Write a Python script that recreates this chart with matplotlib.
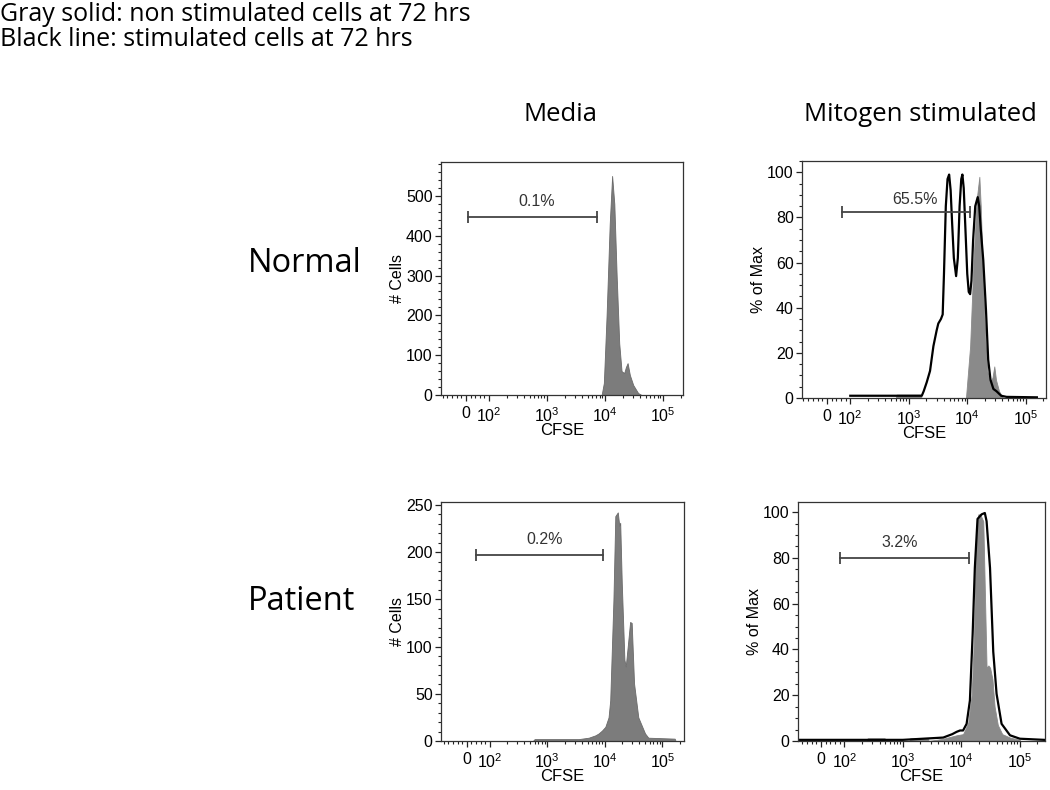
import numpy as np
import matplotlib
matplotlib.use('Agg')
import matplotlib.pyplot as plt
from matplotlib.ticker import FixedLocator, MultipleLocator

plt.rcParams['font.family'] = ['Liberation Sans', 'DejaVu Sans']
plt.rcParams['mathtext.fontset'] = 'custom'
plt.rcParams['mathtext.rm'] = 'Liberation Sans'

# CFSE histograms (x = CFSE intensity, y = count / % of max)
normal_media_x = [500, 8700, 9500, 10600, 12000, 13200, 14400, 15800, 17500, 19200,
                  21300, 22800, 24400, 26700, 30500, 37000, 42400, 140000]
normal_media_y = [0, 0, 30, 200, 430, 550, 480, 300, 130, 60,
                  55, 70, 80, 50, 25, 5, 0, 0]

normal_mito_gray_x = [600, 620, 1600, 1650, 9500, 11200, 12800, 14500, 16100, 17000,
                      18000, 19000, 20500, 22000, 24500, 27000, 29000, 31000, 35000, 41000]
normal_mito_gray_y = [0, 1.5, 1.5, 0, 0, 23, 61, 88, 98, 85,
                      65, 45, 25, 12, 7, 9, 14, 8, 3, 0]

normal_mito_black_x = [100, 620, 1670, 1800, 2030, 2310, 2640, 3000, 3200, 3550,
                       3800, 4000, 4300, 4600, 4900, 5200, 5500, 5900, 6450, 6900,
                       7400, 7900, 8260, 8700, 9300, 10000, 10600, 11200, 11800,
                       12600, 13700, 15100, 16000, 17000, 18800, 20900, 22800,
                       25000, 28000, 31600, 38000, 47000, 155000]
normal_mito_black_y = [1, 1, 1, 3, 7, 12, 23, 30, 33, 35,
                       37, 55, 85, 97, 99, 92, 78, 62, 54, 62,
                       85, 97, 99, 93, 75, 55, 47, 46, 52,
                       70, 85, 89, 85, 75, 61, 39, 17,
                       8, 4, 3, 1, 0.5, 0.3]

patient_media_x = [560, 600, 3500, 5250, 6850, 7800, 8900, 10200, 11600, 12400,
                   14100, 15200, 16800, 17800, 18500, 19700, 21900, 23100, 25000,
                   27500, 29300, 32200, 38200, 50000, 57000, 164000, 170000]
patient_media_y = [0, 2, 2, 3.5, 6, 8, 11, 15, 25, 43,
                   149, 238, 242, 228, 231, 167, 86, 79, 100,
                   126, 125, 61, 25, 8, 3.5, 2.5, 0]

patient_mito_gray_x = [240, 250, 490, 500, 1300, 1330, 2700, 2750, 4900, 8300,
                       10700, 13100, 15000, 16400, 17400, 18500, 19500, 21000, 23700,
                       25500, 27000, 29000, 31000, 34000, 37000, 42000, 50000, 67800,
                       100000]
patient_mito_gray_y = [0, 1.2, 1.2, 0, 0, 1.2, 1.2, 0, 1, 2.5,
                       3, 8, 20, 45, 75, 95, 99, 99, 96,
                       60, 32, 33, 32, 27, 15, 7, 3, 1.5,
                       0.5]

patient_mito_black_x = [-98, 1000, 4900, 7000, 8300, 9500, 10700, 12300, 14000,
                        15600, 17000, 18900, 22200, 25200, 27000, 30900, 35100,
                        40000, 48700, 67800, 100000, 260000]
patient_mito_black_y = [0.5, 0.5, 1.5, 3, 4, 4.6, 4.6, 7.5, 17.7,
                        46.7, 75.6, 97, 99, 99.6, 96, 75.6, 39,
                        20.6, 7.5, 2.5, 1, 0.5]

# gates: (left, right, y level, label, label x, label y)
gates = {
    'normal_media': (10, 7130, 448, '0.1%', 660, 486),
    'normal_mito': (65, 11200, 82.6, '65.5%', 1280, 88),
    'patient_media': (42, 9270, 197, '0.2%', 880, 213),
    'patient_mito': (80, 13300, 80, '3.2%', 890, 86.5),
}

major_x = [0, 1e2, 1e3, 1e4, 1e5]
major_x_labels = ['0', r'$\mathregular{10^2}$', r'$\mathregular{10^3}$',
                  r'$\mathregular{10^4}$', r'$\mathregular{10^5}$']
minor_x = [-100, -80, -60, -40, -20, 20, 40, 60, 80] + \
    [k * 10.0 ** n for n in (2, 3, 4) for k in range(2, 10)] + [2e5]

gray = '#7c7c7c'

fig = plt.figure(figsize=(10.5, 7.9), dpi=100)
W, H = 1050, 790


def make_ax(x0, y_top, w, y_bottom):
    return fig.add_axes([x0 / W, 1 - y_bottom / H, w / W, (y_bottom - y_top) / H])


def style(ax, xlim, ylim, ymajor, yminor, ylabel):
    ax.set_xscale('symlog', linthresh=100, linscale=0.36)
    ax.set_xlim(*xlim)
    ax.set_ylim(*ylim)
    ax.xaxis.set_major_locator(FixedLocator(major_x))
    ax.set_xticklabels(major_x_labels)
    ax.xaxis.set_minor_locator(FixedLocator(minor_x))
    ax.yaxis.set_major_locator(MultipleLocator(ymajor))
    ax.yaxis.set_minor_locator(MultipleLocator(yminor))
    ax.tick_params(which='major', direction='out', length=4, width=0.9,
                   labelsize=11.5, pad=2, color='#222222')
    ax.tick_params(which='minor', direction='out', length=2.2, width=0.8, color='#222222')
    ax.tick_params(axis='x', which='major', pad=4)
    for sp in ax.spines.values():
        sp.set_linewidth(0.9)
        sp.set_color('#333333')
    ax.set_xlabel('CFSE', fontsize=12, labelpad=-1)
    ax.set_ylabel(ylabel, fontsize=11.5, labelpad=1)


def gate(ax, g):
    x1, x2, y, label, lx, ly = g
    ax.plot([x1, x2], [y, y], color='#444444', lw=1.3, marker='|',
            markersize=9, markeredgewidth=1.3)
    ax.text(lx, ly, label, ha='center', va='center', fontsize=11.5, color='#333333')


# Normal, media
ax1 = make_ax(441, 162, 242, 395)
ax1.fill_between(normal_media_x, normal_media_y, 0, color=gray, lw=0.6, edgecolor='#6a6a6a')
style(ax1, (-107, 2.2e5), (0, 585), 100, 20, '# Cells')
gate(ax1, gates['normal_media'])

# Normal, mitogen
ax2 = make_ax(802, 161, 244, 398)
ax2.fill_between(normal_mito_gray_x, normal_mito_gray_y, 0, color='#8a8a8a', lw=0.6,
                 edgecolor='#8a8a8a')
ax2.plot(normal_mito_black_x, normal_mito_black_y, color='black', lw=1.6)
style(ax2, (-106, 2.22e5), (0, 105), 20, 5, '% of Max')
gate(ax2, gates['normal_mito'])

# Patient, media
ax3 = make_ax(441, 502, 243, 741)
ax3.fill_between(patient_media_x, patient_media_y, 0, color=gray, lw=0.6, edgecolor='#6a6a6a')
style(ax3, (-112, 2.38e5), (0, 253), 50, 10, '# Cells')
gate(ax3, gates['patient_media'])

# Patient, mitogen
ax4 = make_ax(798, 502, 247, 741)
ax4.fill_between(patient_mito_gray_x, patient_mito_gray_y, 0, color='#8a8a8a', lw=0.6,
                 edgecolor='#8a8a8a')
ax4.plot(patient_mito_black_x, patient_mito_black_y, color='black', lw=1.6)
style(ax4, (-98, 2.69e5), (0, 104.4), 20, 5, '% of Max')
gate(ax4, gates['patient_mito'])

# text outside the panels
txt_font = ['Open Sans', 'DejaVu Sans']
fig.text(0 / W, 1 - 21 / H, 'Gray solid: non stimulated cells at 72 hrs',
         fontsize=18, family=txt_font, va='baseline', ha='left')
fig.text(0 / W, 1 - 46 / H, 'Black line: stimulated cells at 72 hrs',
         fontsize=18, family=txt_font, va='baseline', ha='left')
fig.text(560 / W, 1 - 121 / H, 'Media', fontsize=18.5, family=txt_font,
         va='baseline', ha='center')
fig.text(920 / W, 1 - 121 / H, 'Mitogen stimulated', fontsize=18.5, family=txt_font,
         va='baseline', ha='center')
fig.text(305 / W, 1 - 272 / H, 'Normal', fontsize=23.5, family=txt_font,
         va='baseline', ha='center')
fig.text(302 / W, 1 - 610 / H, 'Patient', fontsize=23.5, family=txt_font,
         va='baseline', ha='center')

fig.savefig('out.png', dpi=100, facecolor='white')
